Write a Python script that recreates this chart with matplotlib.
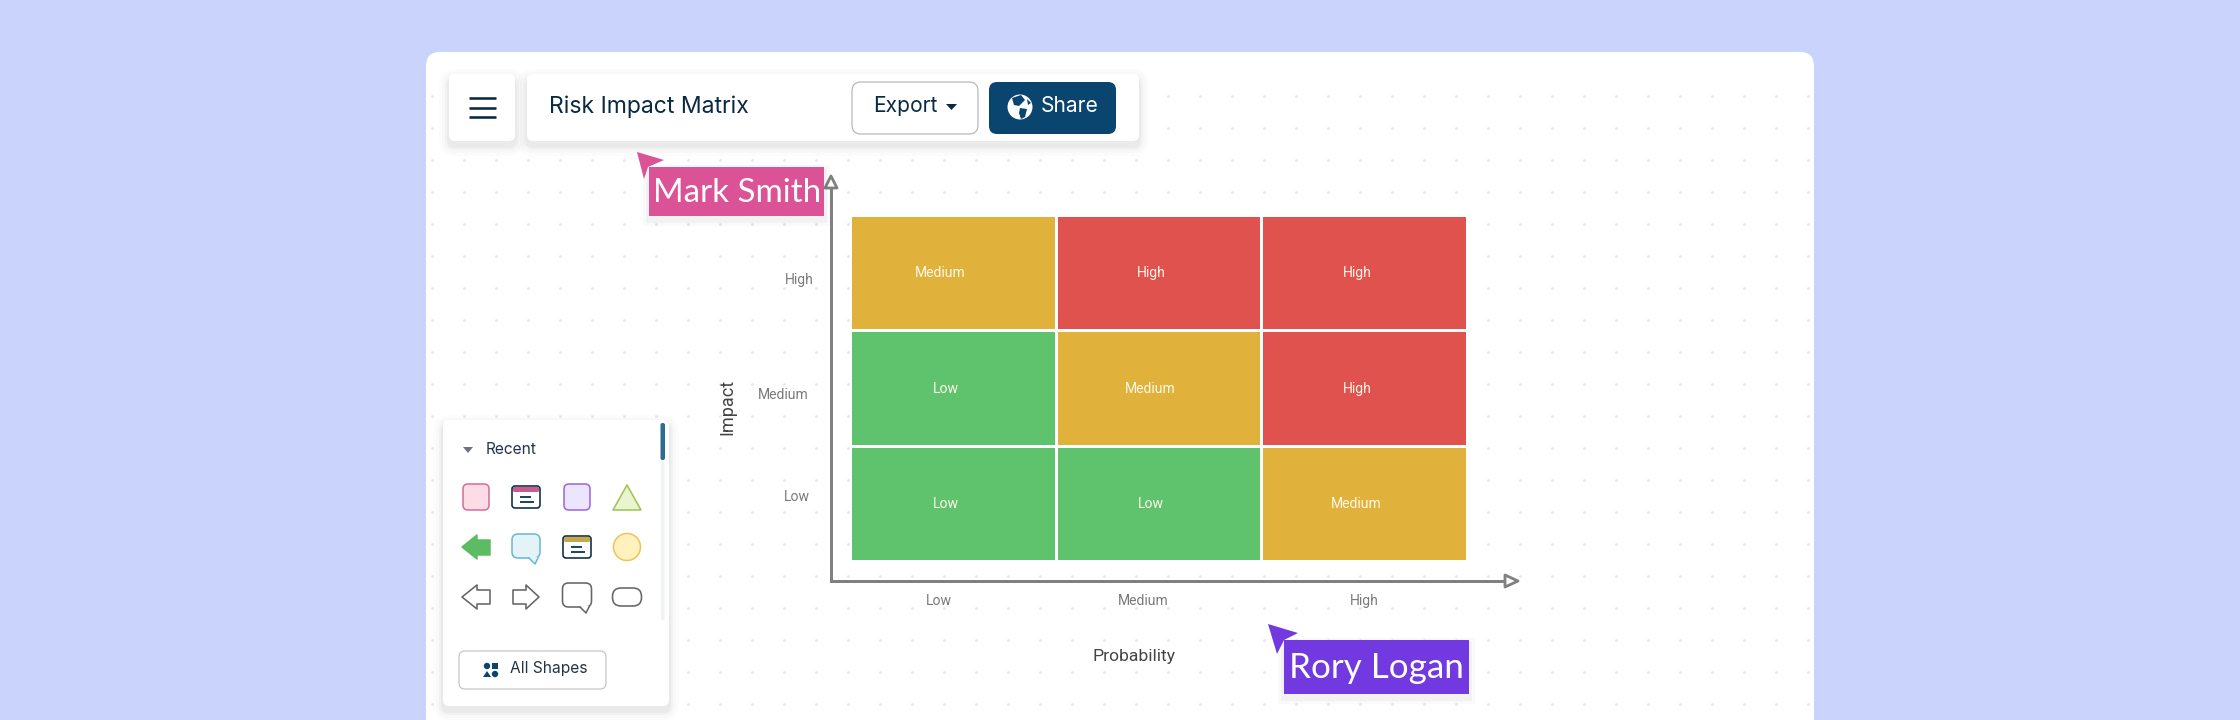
# Risk impact matrix shown inside a diagram editor mockup

import matplotlib
matplotlib.use("Agg")

import matplotlib.pyplot as plt
import numpy as np
from matplotlib.colors import ListedColormap
from matplotlib.patches import Circle, Ellipse, FancyBboxPatch, Polygon, Rectangle


# ----------------------------------------------------------
# Data
# ----------------------------------------------------------

TITLE = "Risk Impact Matrix"
PROBABILITY_LABELS = ["Low", "Medium", "High"]
IMPACT_LABELS = ["Low", "Medium", "High"]

# rows run from low impact up to high impact
RISK_GRID = [
    ["Low", "Low", "Medium"],
    ["Low", "Medium", "High"],
    ["Medium", "High", "High"],
]
RISK_LEVELS = ["Low", "Medium", "High"]
RISK_COLORS = ["#5FC36D", "#E0B23C", "#DF524D"]

# ----------------------------------------------------------
# Style
# ----------------------------------------------------------

W, H = 2240, 720
BG = "#C9D3FC"
NAVY = "#0A2A43"
AXIS_GRAY = "#808080"
DOT = "#E9E9EC"

plt.rcParams["font.family"] = ["Roboto", "DejaVu Sans"]

fig = plt.figure(figsize=(W / 100, H / 100), dpi=100, facecolor=BG)
ax = fig.add_axes([0, 0, 1, 1])
ax.set_xlim(0, W)
ax.set_ylim(H, 0)
ax.axis("off")


def px(v):
    # pixel length to points
    return v * 0.72


def rbox(x0, y0, x1, y1, r, fc, ec="none", lw=0, z=2, alpha=None):
    p = FancyBboxPatch(
        (x0 + r, y0 + r), x1 - x0 - 2 * r, y1 - y0 - 2 * r,
        boxstyle=f"round,pad={r},rounding_size={r}",
        fc=fc, ec=ec, lw=px(lw), zorder=z, alpha=alpha,
    )
    ax.add_patch(p)


def panel(x0, y0, x1, y1, r=6, z=3):
    # soft drop shadow, then the white panel
    for grow, a in [(10, 0.012), (7, 0.016), (4, 0.022), (2, 0.03)]:
        rbox(x0 - grow, y0 - grow + 5, x1 + grow, y1 + grow + 5, r + grow, "#000000", z=z, alpha=a)
    rbox(x0, y0, x1, y1, r, "white", z=z + 0.1)


def poly(pts, fc, ec="none", lw=0, z=6):
    ax.add_patch(Polygon(pts, closed=True, fc=fc, ec=ec, lw=px(lw), zorder=z, joinstyle="round"))


def label(s, x, y, size, color, ha="center", family="Roboto", rotation=0, z=8):
    ax.text(x, y, s, fontsize=px(size), color=color, ha=ha, va="center",
            family=family, rotation=rotation, zorder=z)


# ----------------------------------------------------------
# Card and dotted canvas
# ----------------------------------------------------------

rbox(426, 52, 1814, 780, 14, "white", z=1)

dot_x = np.arange(432, 1810, 32)
dot_y = np.arange(96, 720, 32)
gx, gy = np.meshgrid(dot_x, dot_y)
ax.scatter(gx.ravel(), gy.ravel(), s=5, c=DOT, linewidths=0, zorder=1.5)

# ----------------------------------------------------------
# Matrix
# ----------------------------------------------------------

MX0, MX1, MY0, MY1 = 850, 1467, 215, 561
mat_ax = fig.add_axes([MX0 / W, 1 - MY1 / H, (MX1 - MX0) / W, (MY1 - MY0) / H], zorder=2)
codes = np.array([[RISK_LEVELS.index(c) for c in row] for row in RISK_GRID])
mat_ax.pcolormesh(codes, cmap=ListedColormap(RISK_COLORS), vmin=0, vmax=2,
                  edgecolors="white", linewidth=px(3))
mat_ax.set_xlim(0, 3)
mat_ax.set_ylim(0, 3)
mat_ax.axis("off")

text_ax = fig.add_axes([0, 0, 1, 1], zorder=3)
text_ax.set_xlim(0, W)
text_ax.set_ylim(H, 0)
text_ax.axis("off")
text_ax.patch.set_alpha(0)

cell_x = [[946, 1151, 1356], [946, 1150, 1357], [940, 1151, 1357]]
cell_y = [504, 389, 273]
for r, row in enumerate(RISK_GRID):
    for c, level in enumerate(row):
        text_ax.text(cell_x[r][c], cell_y[r], level, fontsize=px(14), color="#FFF8E6",
                     ha="center", va="center", family="Roboto")

# axis arrows
ax.plot([831, 831, 1506], [187, 581, 581], color=AXIS_GRAY, lw=px(3), zorder=4,
        solid_joinstyle="miter", solid_capstyle="butt")
poly([(831, 176), (837, 188), (825, 188)], "white", AXIS_GRAY, 2.8, z=4)
poly([(1518, 581), (1505, 575), (1505, 587)], "white", AXIS_GRAY, 2.8, z=4)

for s, x, y in zip(IMPACT_LABELS, [797, 783, 799], [497, 395, 280]):
    label(s, x, y, 14, "#7A7A7A")
for s, x in zip(PROBABILITY_LABELS, [939, 1143, 1364]):
    label(s, x, 601, 14, "#7A7A7A")

label("Impact", 727, 407, 18, "#444444", rotation=90)
label("Probability", 1134, 657, 17.5, "#444444")

# ----------------------------------------------------------
# Top toolbar
# ----------------------------------------------------------

panel(449, 74, 515, 141)
panel(527, 74, 1139, 141)

for y in [98, 107.5, 117]:
    ax.plot([469, 496], [y, y], color=NAVY, lw=px(2.6), zorder=6, solid_capstyle="butt")

label(TITLE, 549, 107, 23, NAVY, ha="left", family="Inter")

rbox(852, 82, 978, 134, 9, "white", ec="#B5B5B5", lw=1.2, z=5)
label("Export", 905, 106, 21, NAVY, family="Inter")
poly([(946, 104), (957, 104), (951.5, 110)], NAVY)

rbox(989, 82, 1116, 134, 8, "#0A4570", z=5)
label("Share", 1070, 106, 21, "white", family="Inter")

# globe icon
ax.add_patch(Circle((1020, 107), 12.5, fc="white", ec="none", zorder=6))
poly([(1012, 98), (1021, 95), (1025, 100), (1019, 106), (1014, 105)], "#0A4570", z=7)
poly([(1020, 108), (1027, 109), (1025, 117), (1021, 119), (1019, 113)], "#0A4570", z=7)
poly([(1027, 99), (1031, 103), (1028, 105)], "#0A4570", z=7)

# ----------------------------------------------------------
# Collaborator cursors
# ----------------------------------------------------------

poly([(637, 152), (664, 160), (648, 167), (644, 179)], "#DB5296")
for grow, a in [(6, 0.02), (3, 0.03)]:
    ax.add_patch(Rectangle((649 - grow, 167 + 4 - grow), 175 + 2 * grow, 49 + 2 * grow,
                           fc="black", alpha=a, ec="none", zorder=5))
ax.add_patch(Rectangle((649, 167), 175, 49, fc="#DB5296", ec="none", zorder=6))
label("Mark Smith", 737, 193, 33, "white", family="Lato")

poly([(1268, 624), (1298, 633), (1284, 640), (1277, 654)], "#7239E0")
for grow, a in [(6, 0.02), (3, 0.03)]:
    ax.add_patch(Rectangle((1284 - grow, 640 + 4 - grow), 185 + 2 * grow, 54 + 2 * grow,
                           fc="black", alpha=a, ec="none", zorder=5))
ax.add_patch(Rectangle((1284, 640), 185, 54, fc="#7239E0", ec="none", zorder=6))
label("Rory Logan", 1376, 668, 35, "white", family="Lato")

# ----------------------------------------------------------
# Shapes panel
# ----------------------------------------------------------

panel(443, 420, 669, 706, r=6)

rbox(661, 423, 664.5, 620, 1.5, "#F1F3F5", z=4)
rbox(660.5, 423, 665, 460, 2, "#2F6A8F", z=5)

poly([(463, 447), (473, 447), (468, 453)], "#6B7280")
label("Recent", 486, 450, 15.5, "#223448", ha="left", family="Inter")

COLS = [476, 526, 577, 627]
ROWS = [497, 547, 597]


def card_icon(cx, cy, band):
    rbox(cx - 14, cy - 11, cx + 14, cy + 11, 3, "white", ec=NAVY, lw=1.6, z=6)
    rbox(cx - 13, cy - 10, cx + 13, cy - 5, 1.5, band, z=7)
    ax.plot([cx - 5, cx + 4], [cy + 0, cy + 0], color="#1E4A63", lw=px(2), zorder=7)
    ax.plot([cx - 5, cx + 7], [cy + 5, cy + 5], color="#1E4A63", lw=px(2), zorder=7)


def bubble(cx, cy, fc, ec, half_w=14):
    rbox(cx - half_w, cy - 13, cx + half_w, cy + 11, 6, fc, ec=ec, lw=1.6, z=6)
    poly([(cx + 3, cy + 10), (cx + 12, cy + 10), (cx + 9, cy + 17)], fc, z=7)
    ax.plot([cx + 3, cx + 9, cx + 12], [cy + 11, cy + 17, cy + 11], color=ec, lw=px(1.6), zorder=8)


# row 1
rbox(COLS[0] - 13, ROWS[0] - 13, COLS[0] + 13, ROWS[0] + 13, 5, "#FDDCE6", ec="#D9709A", lw=1.6, z=6)
card_icon(COLS[1], ROWS[0], "#C95B93")
rbox(COLS[2] - 13, ROWS[0] - 13, COLS[2] + 13, ROWS[0] + 13, 5, "#EDE4FD", ec="#9A6BE0", lw=1.6, z=6)
poly([(COLS[3], ROWS[0] - 12), (COLS[3] + 14, ROWS[0] + 13), (COLS[3] - 14, ROWS[0] + 13)],
     "#E8F5CF", "#A5C25A", 1.6)

# row 2
poly([(462, ROWS[1]), (477, ROWS[1] - 12), (477, ROWS[1] - 7), (490, ROWS[1] - 7),
      (490, ROWS[1] + 8), (477, ROWS[1] + 8), (477, ROWS[1] + 12)], "#5DBB63", "#5DBB63", 1.5)
bubble(COLS[1], ROWS[1], "#E4F3F8", "#6DBAD6")
card_icon(COLS[2], ROWS[1], "#C8A94A")
ax.add_patch(Circle((COLS[3], ROWS[1]), 13.5, fc="#FFF2BF", ec="#F0C45C", lw=px(1.6), zorder=6))

# row 3
GRAY_OUT = "#666666"
poly([(462, ROWS[2]), (477, ROWS[2] - 12), (477, ROWS[2] - 7), (490, ROWS[2] - 7),
      (490, ROWS[2] + 7), (477, ROWS[2] + 7), (477, ROWS[2] + 12)], "white", GRAY_OUT, 1.6)
poly([(539, ROWS[2]), (526, ROWS[2] - 12), (526, ROWS[2] - 7), (513, ROWS[2] - 7),
      (513, ROWS[2] + 7), (526, ROWS[2] + 7), (526, ROWS[2] + 12)], "white", GRAY_OUT, 1.6)
bubble(COLS[2], ROWS[2] - 1, "white", GRAY_OUT, half_w=14.5)
rbox(COLS[3] - 14.5, ROWS[2] - 9, COLS[3] + 14.5, ROWS[2] + 9, 8.5, "white", ec=GRAY_OUT, lw=1.6, z=6)

# all shapes button
rbox(459, 651, 606, 689, 6, "white", ec="#C4C4C4", lw=1.2, z=5)
ax.add_patch(Circle((487, 666), 3.2, fc="#0A4570", zorder=6))
ax.add_patch(Rectangle((492, 662.5), 6, 6, fc="#0A4570", zorder=6))
poly([(487, 671), (491, 677), (483, 677)], "#0A4570")
ax.add_patch(Circle((495, 674), 3.2, fc="#0A4570", zorder=6))
label("All Shapes", 510, 669, 15.5, "#223448", ha="left", family="Inter")

fig.savefig("out.png", dpi=100, facecolor=BG)
plt.close(fig)
